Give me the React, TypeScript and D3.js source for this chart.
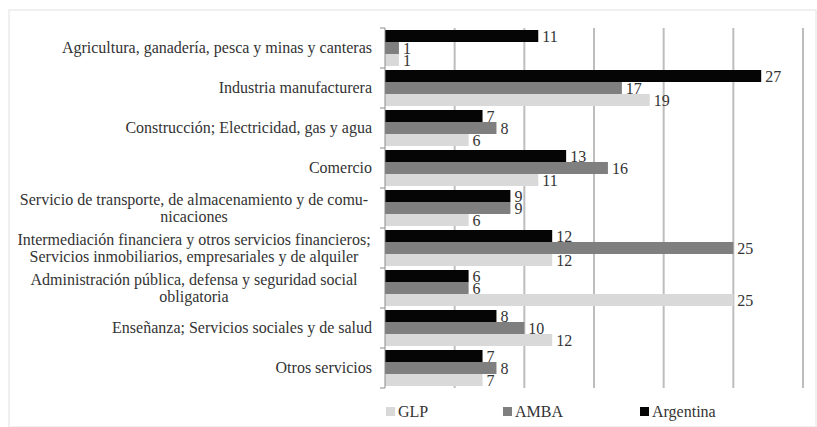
import React from "react";
import * as d3 from "d3";

const categories = [
  ["Agricultura, ganadería, pesca y minas y canteras"],
  ["Industria manufacturera"],
  ["Construcción; Electricidad, gas y agua"],
  ["Comercio"],
  ["Servicio de transporte, de almacenamiento y de comu-", "nicaciones"],
  ["Intermediación financiera y otros servicios financieros;", "Servicios inmobiliarios, empresariales y de alquiler"],
  ["Administración pública, defensa y seguridad social", "obligatoria"],
  ["Enseñanza; Servicios sociales y de salud"],
  ["Otros servicios"],
];

const argentina = [11, 27, 7, 13, 9, 12, 6, 8, 7];
const amba = [1, 17, 8, 16, 9, 25, 6, 10, 8];
const glp = [1, 19, 6, 11, 6, 12, 25, 12, 7];

const seriesNames = ["Argentina", "AMBA", "GLP"];
const legendOrder = ["GLP", "AMBA", "Argentina"];
const gridTicks = [5, 10, 15, 20, 25, 30];

const colors: Record<string, string> = {
  Argentina: "#050505",
  AMBA: "#7f7f7f",
  GLP: "#d9d9d9",
};

const W = 817;
const H = 427;
const margin = { left: 385, right: 14, top: 28, bottom: 39 };

export default function App() {
  const seriesValues: Record<string, number[]> = { Argentina: argentina, AMBA: amba, GLP: glp };
  const idx = categories.map((_, i) => i);

  const x = d3.scaleLinear().domain([0, 30]).range([margin.left, W - margin.right]);
  const y = d3.scaleBand<number>().domain(idx).range([margin.top, H - margin.bottom]).paddingInner(0.1).paddingOuter(0.05);
  const yOuter = d3.scaleBand<number>().domain(idx).range([margin.top, H - margin.bottom]);
  const ySub = d3.scaleBand<string>().domain(seriesNames).range([0, y.bandwidth()]);

  const fontStyle = { fontFamily: "Liberation Serif, serif" };

  return (
    <svg width={W} height={H} style={{ position: "absolute", left: 0, top: 0, background: "#fff" }}>
      <rect x={9} y={10} width={W - 10} height={H - 10} fill="none" stroke="#ececec" strokeWidth={1.5} />
      {gridTicks.map((t) => (
        <line key={t} x1={x(t)} x2={x(t)} y1={margin.top} y2={H - margin.bottom} stroke="#bdbdbd" strokeWidth={2} />
      ))}
      {idx.map((i) =>
        seriesNames.map((s) => {
          const v = seriesValues[s][i];
          const by = (y(i) as number) + (ySub(s) as number);
          const bh = ySub.bandwidth();
          return (
            <g key={`${i}-${s}`}>
              <rect x={x(0)} y={by} width={x(v) - x(0)} height={bh} fill={colors[s]} />
              <text x={x(v) + 4} y={by + bh / 2 + 5.5} style={fontStyle} fontSize={16} fill="#333">
                {v}
              </text>
            </g>
          );
        })
      )}
      <line x1={x(0)} x2={x(0)} y1={margin.top} y2={H - margin.bottom} stroke="#8c8c8c" strokeWidth={1} />
      {idx.concat([idx.length]).map((i) => {
        const ty = i < idx.length ? (yOuter(i) as number) : H - margin.bottom;
        return <line key={`t${i}`} x1={x(0) - 5} x2={x(0)} y1={ty} y2={ty} stroke="#8c8c8c" strokeWidth={1} />;
      })}
      {categories.map((lines, i) => {
        const cy = (yOuter(i) as number) + yOuter.bandwidth() / 2;
        const lh = 17;
        const start = cy - ((lines.length - 1) * lh) / 2;
        return (
          <text key={`c${i}`} textAnchor={lines.length > 1 ? "middle" : "end"} style={fontStyle} fontSize={16} fill="#333">
            {lines.map((l, j) => (
              <tspan key={j} x={lines.length > 1 ? 194 : 372} y={start + j * lh + 5}>
                {l}
              </tspan>
            ))}
          </text>
        );
      })}
      {legendOrder.map((s, k) => {
        const lx = [386, 503, 640][k];
        return (
          <g key={s}>
            <rect x={lx} y={407} width={9} height={9} fill={colors[s]} />
            <text x={lx + 12} y={417} style={fontStyle} fontSize={16} fill="#333">
              {s}
            </text>
          </g>
        );
      })}
    </svg>
  );
}
